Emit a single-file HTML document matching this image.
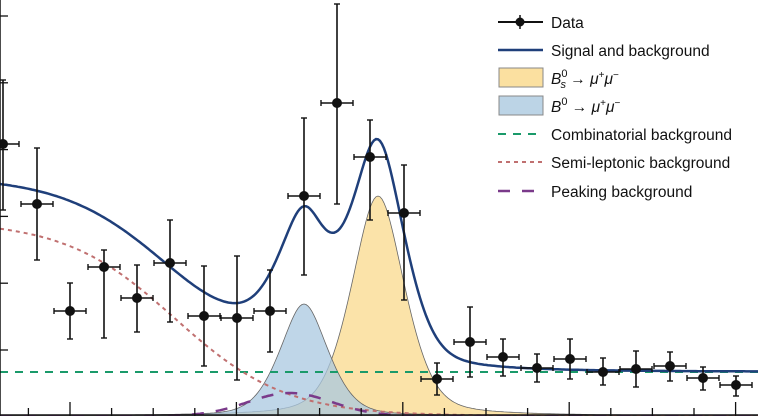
<!DOCTYPE html><html><head><style>body{margin:0;background:#fff}svg{display:block}text{font-family:"Liberation Sans",sans-serif;font-size:15.5px;fill:#111}</style></head><body>
<svg id="s" width="758" height="416" viewBox="0 0 758 416" xmlns="http://www.w3.org/2000/svg">
<g id="fills"></g><g id="lines"></g><g id="pts"></g><g id="ax"></g>
<g>
<line x1="498" y1="22" x2="543" y2="22" stroke="#111" stroke-width="2"/><circle cx="520" cy="22" r="4.5" fill="#111"/><line x1="520" y1="15" x2="520" y2="29" stroke="#111" stroke-width="1.5"/>
<text x="551" y="28">Data</text>
<line x1="498" y1="50" x2="543" y2="50" stroke="#1f3f7a" stroke-width="2.5"/><text x="551" y="56">Signal and background</text>
<rect x="499" y="68" width="44" height="19" fill="#fbe0a0" stroke="#888"/><text x="551" y="84"><tspan font-style="italic">B</tspan><tspan font-size="11" dy="-7">0</tspan><tspan font-size="11" dx="-7" dy="11" font-style="italic">s</tspan><tspan dy="-4"> → </tspan><tspan font-style="italic">μ</tspan><tspan font-size="10" dy="-6">+</tspan><tspan font-style="italic" dy="6">μ</tspan><tspan font-size="10" dy="-6">−</tspan></text>
<rect x="499" y="96" width="44" height="19" fill="#bcd4e6" stroke="#888"/><text x="551" y="112"><tspan font-style="italic">B</tspan><tspan font-size="11" dy="-7">0</tspan><tspan dy="7"> → </tspan><tspan font-style="italic">μ</tspan><tspan font-size="10" dy="-6">+</tspan><tspan font-style="italic" dy="6">μ</tspan><tspan font-size="10" dy="-6">−</tspan></text>
<line x1="498" y1="134" x2="543" y2="134" stroke="#1a9a6a" stroke-width="2" stroke-dasharray="8,7"/><text x="551" y="140">Combinatorial background</text>
<line x1="498" y1="162" x2="543" y2="162" stroke="#c07070" stroke-width="2" stroke-dasharray="4,4"/><text x="551" y="168">Semi-leptonic background</text>
<line x1="498" y1="191" x2="543" y2="191" stroke="#7a3a8a" stroke-width="2.5" stroke-dasharray="12,12"/><text x="551" y="197">Peaking background</text>
</g>
</svg>
<script>
const B=416;
const semi=x=>195/(1+Math.exp((x-175)/55));
const peak=x=>23*Math.exp(-Math.pow((x-290)/42,2)/2);
const sh=(x,m,A,s,g)=>{const d=x-m;return A*(0.6*Math.exp(-d*d/(2*s*s))+0.4/(1+(d/g)*(d/g)));};
const b0=x=>sh(x,304,112,26,24);
const bs=x=>sh(x,378,220,28,28);
const comb=44;
function path(f,close){let p='';for(let x=0;x<=758;x+=2){p+=(x?'L':'M')+x+','+(B-f(x)).toFixed(1);}if(close)p+='L758,416L0,416Z';return p;}
const ns='http://www.w3.org/2000/svg';
function add(g,tag,at){const e=document.createElementNS(ns,tag);for(const k in at)e.setAttribute(k,at[k]);document.getElementById(g).appendChild(e);}
add('fills','path',{d:path(bs,1),fill:'#fbe0a0','fill-opacity':'0.9',stroke:'#666','stroke-width':'0.8'});
add('fills','path',{d:path(b0,1),fill:'#a9c8e0','fill-opacity':'0.75',stroke:'#666','stroke-width':'0.8'});
add('lines','path',{d:path(()=>comb),fill:'none',stroke:'#1a9a6a','stroke-width':'2','stroke-dasharray':'8,7'});
add('lines','path',{d:path(semi),fill:'none',stroke:'#c07070','stroke-width':'2','stroke-dasharray':'4,4'});
add('lines','path',{d:path(peak),fill:'none',stroke:'#7a3a8a','stroke-width':'2.5','stroke-dasharray':'12,12'});
add('lines','path',{d:path(x=>comb+semi(x)+peak(x)+b0(x)+bs(x)),fill:'none',stroke:'#1f3f7a','stroke-width':'2.5'});
const P=[[3,144,80,210],[37,204,148,260],[70,311,283,339],[104,267,250,338],[137,298,265,332],[170,263,220,322],[204,316,266,366],[237,318,256,380],[270,311,270,352],[304,196,118,275],[337,103,4,204],[370,157,120,220],[404,213,165,300],[437,379,363,395],[470,342,307,377],[503,357,339,376],[537,368,354,382],[570,359,339,379],[603,372,358,385],[636,369,351,387],[670,366,352,381],[703,378,367,390],[736,385,376,396]];
for(const [x,y,t,b] of P){
add('pts','line',{x1:x-16,y1:y,x2:x+16,y2:y,stroke:'#111','stroke-width':'1.6'});
add('pts','line',{x1:x,y1:t,x2:x,y2:b,stroke:'#111','stroke-width':'1.6'});
for(const [a1,a2,b1,b2] of [[x-16,x-16,y-3,y+3],[x+16,x+16,y-3,y+3],[x-3,x+3,t,t],[x-3,x+3,b,b]])add('pts','line',{x1:a1,x2:a2,y1:b1,y2:b2,stroke:'#111','stroke-width':'1.4'});
add('pts','circle',{cx:x,cy:y,r:5,fill:'#111'});}
add('ax','line',{x1:0,y1:0,x2:0,y2:416,stroke:'#111','stroke-width':'1.5'});
add('ax','line',{x1:0,y1:415,x2:758,y2:415,stroke:'#111','stroke-width':'1.5'});
for(let y=16;y<416;y+=66.8)add('ax','line',{x1:0,y1:y,x2:8,y2:y,stroke:'#111','stroke-width':'1.3'});
for(let i=-1;i<20;i++){const x=70+i*41.6;if(x<0||x>758)continue;const maj=i%4==0;add('ax','line',{x1:x,y1:416,x2:x,y2:maj?402:408,stroke:'#111','stroke-width':'1.3'});}
</script></body></html>
